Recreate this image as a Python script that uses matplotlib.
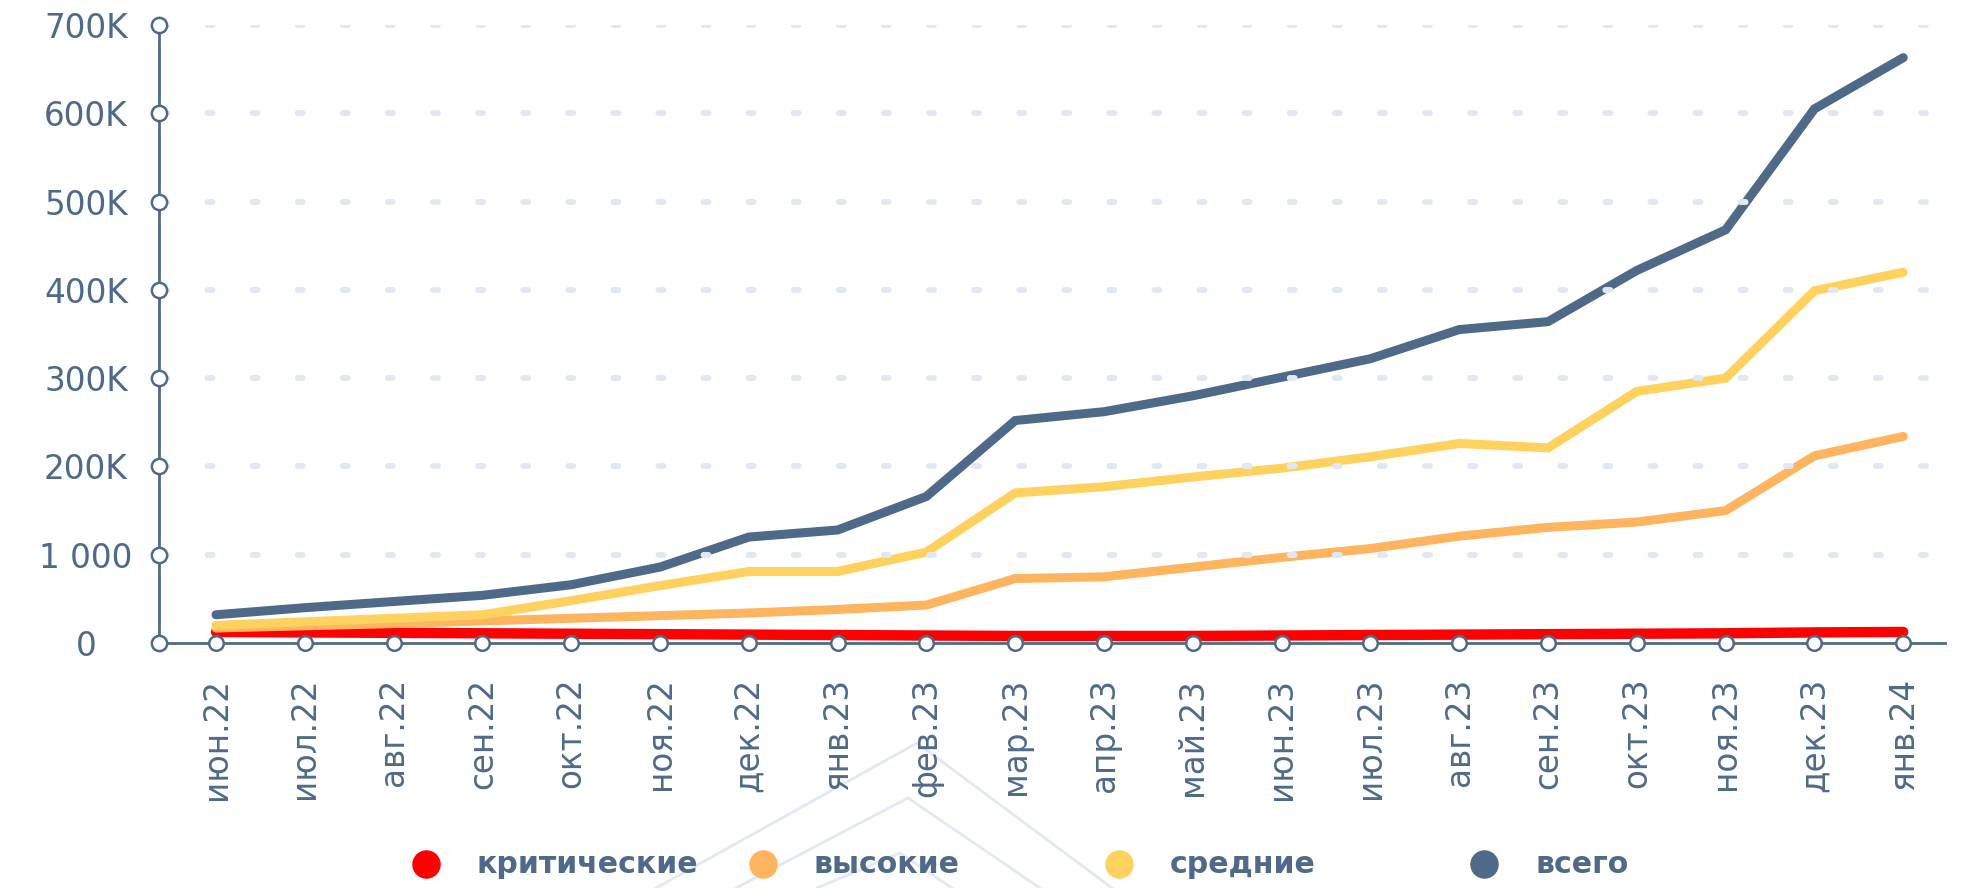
import matplotlib
matplotlib.use('Agg')
import matplotlib.pyplot as plt
from matplotlib.lines import Line2D
import numpy as np

plt.rcParams['font.family'] = ['DejaVu Sans']

months = ['июн.22', 'июл.22', 'авг.22', 'сен.22', 'окт.22', 'ноя.22', 'дек.22',
          'янв.23', 'фев.23', 'мар.23', 'апр.23', 'май.23', 'июн.23', 'июл.23',
          'авг.23', 'сен.23', 'окт.23', 'ноя.23', 'дек.23', 'янв.24']

# values in thousands
total = [32, 40, 47, 54, 66, 86, 120, 128, 166, 252, 262, 280, 301, 322,
         355, 364, 422, 468, 605, 663]
medium = [20, 24, 28, 32, 48, 65, 81, 81, 103, 170, 177, 188, 198, 211,
          226, 221, 285, 300, 399, 420]
high = [17, 19.5, 22, 25, 28, 31, 34, 38, 43, 73, 75, 86, 97, 107,
        121, 131, 137, 150, 212, 234]
critical = [12.5, 12, 11.5, 11, 10.5, 10, 9.5, 9, 8.5, 8, 8, 8, 8.5, 9,
            9.5, 10, 10.5, 11, 12, 12.5]

yticks = [0, 100, 200, 300, 400, 500, 600, 700]
ytick_labels = ['0', '1 000', '200K', '300K', '400K', '500K', '600K', '700K']

series_names = ['критические', 'высокие', 'средние', 'всего']
colors = ['#ff0000', '#ffb55f', '#ffd15f', '#4f6a88']

DARK = '#4f6a88'
GRID = '#e1e8f4'

W, H = 1961, 888
fig = plt.figure(figsize=(W / 100, H / 100), dpi=100)
ax = fig.add_axes([159 / W, 1 - 643 / H, (1945 - 159) / W, (643 - 25) / H])
ax.patch.set_alpha(0)

x = np.arange(len(months))
series = [critical, high, medium, total]
widths = [7.5, 6.5, 6.5, 6.5]
for vals, c, lw in zip(series, colors, widths):
    ax.plot(x, np.array(vals) * 1000, color=c, lw=lw,
            solid_capstyle='round', solid_joinstyle='miter', zorder=3)

ax.set_xlim(-0.642, 19.47)
ax.set_ylim(0, 700000)

# dotted grid on top of lines
for yv in yticks[1:]:
    ax.axhline(yv * 1000, xmin=0, xmax=0.995, color=GRID, lw=4.3,
               linestyle=(6.97, (0.83, 6.72)), dash_capstyle='round', zorder=4)

for s in ['top', 'right']:
    ax.spines[s].set_visible(False)
for s in ['left', 'bottom']:
    ax.spines[s].set_color(DARK)
    ax.spines[s].set_linewidth(2)
    ax.spines[s].set_zorder(5)

ax.set_yticks([v * 1000 for v in yticks])
ax.set_yticklabels(ytick_labels)
ax.set_xticks(x)
ax.set_xticklabels(months, rotation=90)
ax.tick_params(axis='y', length=0, pad=52.6, labelsize=23.5, labelcolor=DARK)
ax.tick_params(axis='x', length=0, pad=25, labelsize=23.5, labelcolor=DARK)
for t in ax.get_yticklabels():
    t.set_horizontalalignment('center')

# circle tick markers
ax.plot(x, np.zeros(len(x)), 'o', ms=10.5, mfc='white', mec=DARK, mew=1.8,
        clip_on=False, zorder=6)
ax.plot(np.zeros(len(yticks)), [v * 1000 for v in yticks], 'o', ms=11,
        mfc='white', mec=DARK, mew=1.8, clip_on=False, zorder=6,
        transform=ax.get_yaxis_transform())

# faint background chevrons
chevrons = [[(656, 888), (917, 743), (1112, 888)],
            [(736, 888), (908, 798), (1040, 888)],
            [(817, 888), (900, 853), (952, 888)]]
for pts in chevrons:
    xs = [p[0] / W for p in pts]
    ys = [1 - p[1] / H for p in pts]
    fig.add_artist(Line2D(xs, ys, color='#e2e9f4', lw=2, zorder=0))

# legend
marker_x = [425.5, 763, 1119, 1484]
text_x = [476.5, 813, 1170, 1536]
ly = 1 - 864 / H
for name, c, mx, tx in zip(series_names, colors, marker_x, text_x):
    fig.add_artist(Line2D([mx / W], [ly], marker='o', ms=19.5, color=c, lw=0))
    fig.text(tx / W, ly, name, fontsize=21.6, fontweight='bold', color=DARK,
             ha='left', va='center')

fig.savefig('out.png', dpi=100)
